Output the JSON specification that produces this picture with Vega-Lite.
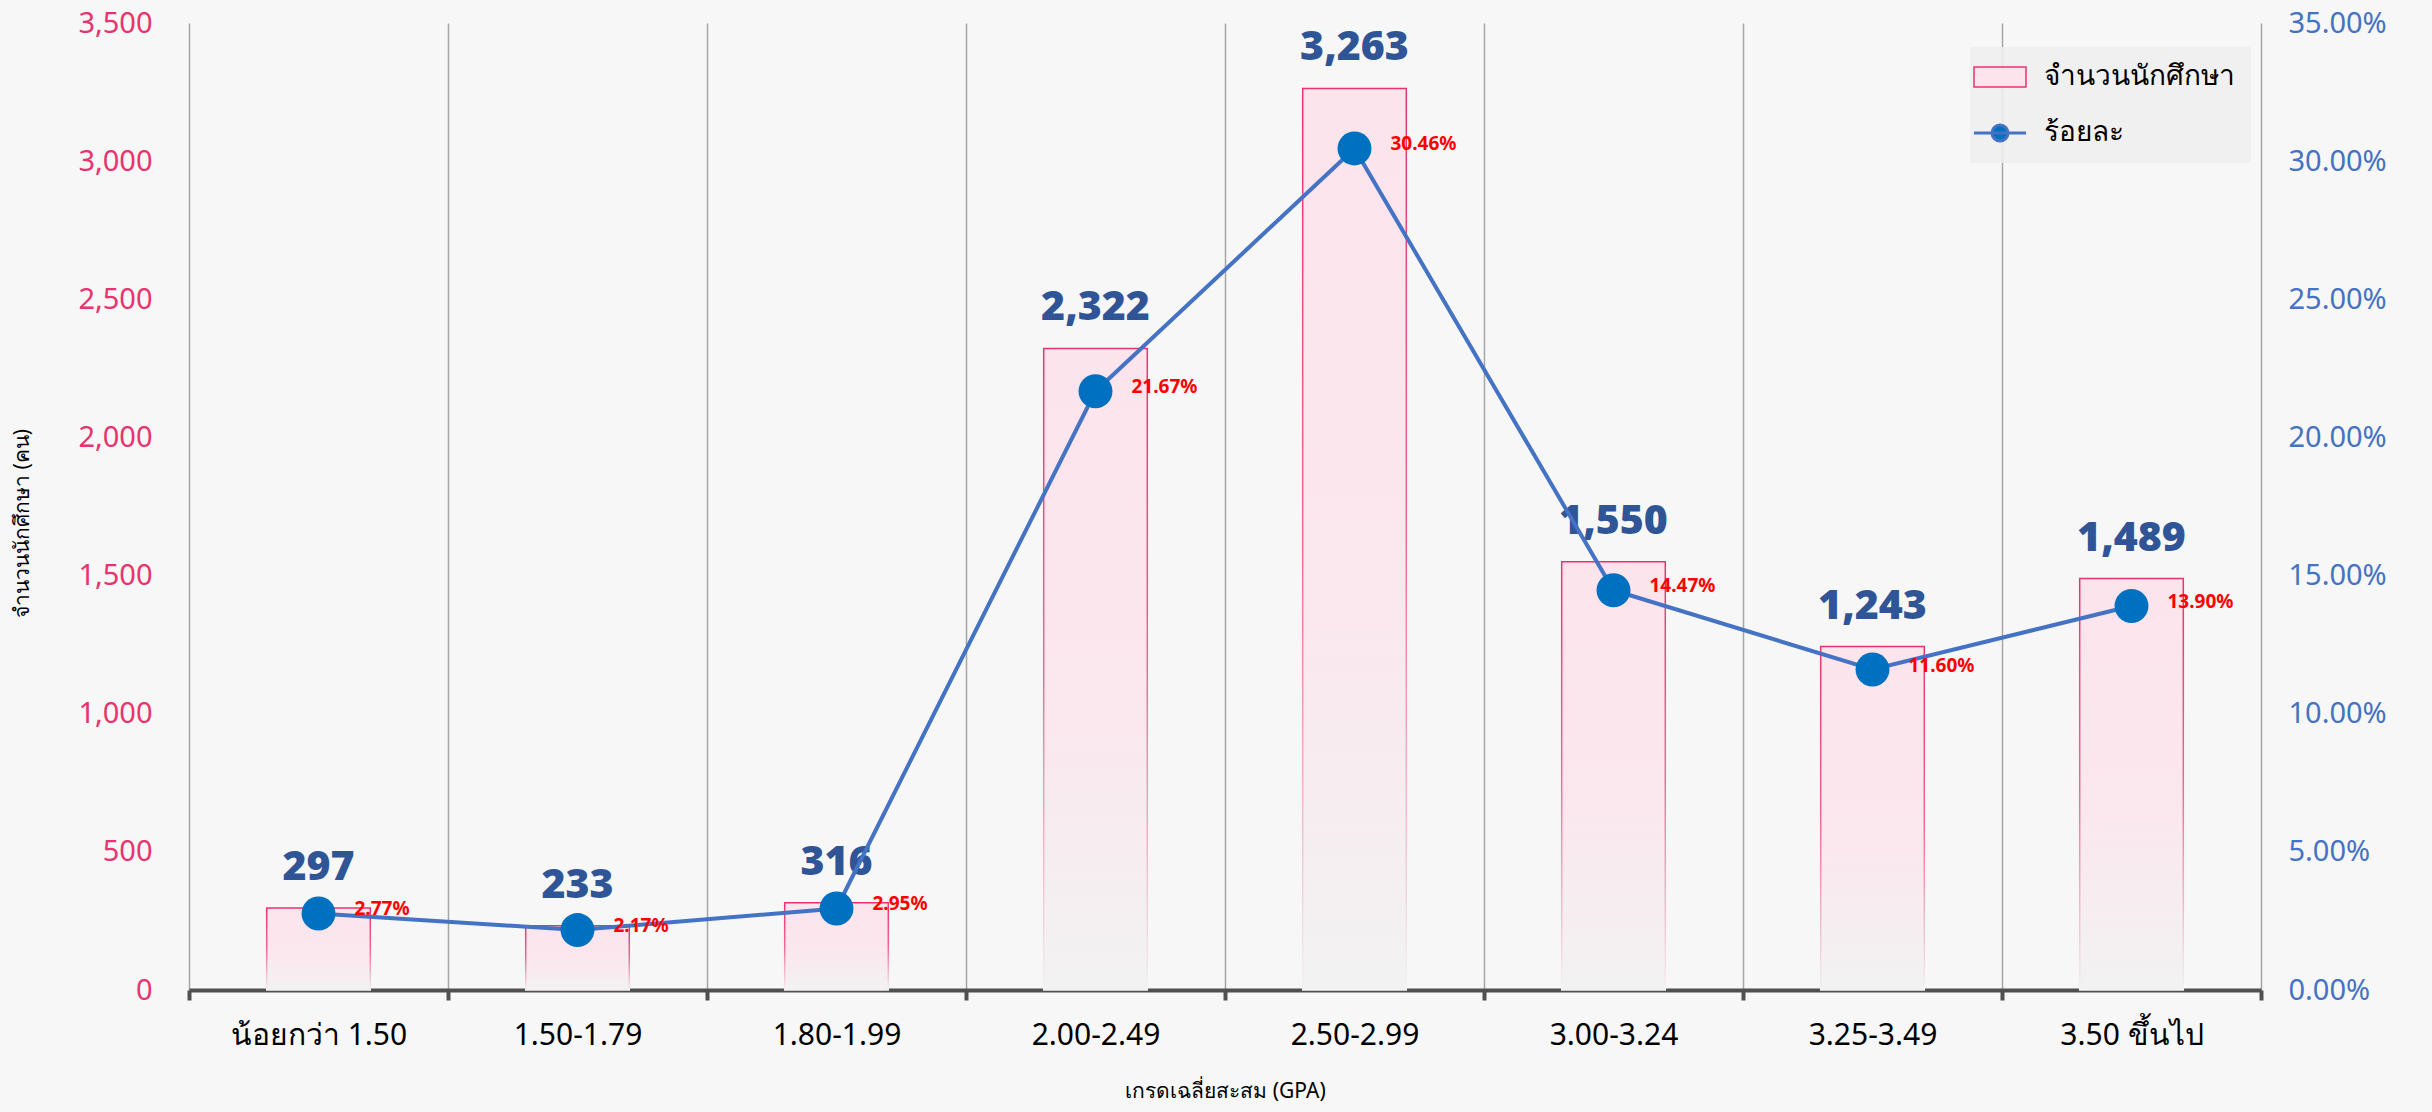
{
  "$schema": "https://vega.github.io/schema/vega-lite/v6.json",
  "autosize": {"type": "none"},
  "width": 2072,
  "height": 967,
  "padding": {"left": 189, "top": 23, "right": 171, "bottom": 122},
  "background": "#f7f7f7",
  "config": {"font": "Noto Sans", "view": {"stroke": null}},
  "data": {
    "values": [
      {"cat": "น้อยกว่า 1.50", "count": 297, "pct": 0.0277},
      {"cat": "1.50-1.79", "count": 233, "pct": 0.0217},
      {"cat": "1.80-1.99", "count": 316, "pct": 0.0295},
      {"cat": "2.00-2.49", "count": 2322, "pct": 0.2167},
      {"cat": "2.50-2.99", "count": 3263, "pct": 0.3046},
      {"cat": "3.00-3.24", "count": 1550, "pct": 0.1447},
      {"cat": "3.25-3.49", "count": 1243, "pct": 0.116},
      {"cat": "3.50 ขึ้นไป", "count": 1489, "pct": 0.139}
    ]
  },
  "encoding": {
    "x": {
      "field": "cat", "type": "nominal", "sort": null,
      "scale": {"paddingInner": 0, "paddingOuter": 0},
      "axis": {
        "orient": "bottom", "labelAngle": 0, "labelFontSize": 30, "labelColor": "#000000",
        "tickBand": "extent", "ticks": true, "tickSize": 10, "tickWidth": 4, "tickColor": "#505050",
        "domainColor": "#505050", "domainWidth": 4,
        "grid": true, "gridColor": "#a6a6a6", "gridWidth": 1.5,
        "labelPadding": 20,
        "title": "เกรดเฉลี่ยสะสม (GPA)", "titleFontSize": 21, "titleFontWeight": "normal", "titleColor": "#000000",
        "titleY": 90, "titleBaseline": "top"
      }
    }
  },
  "layer": [
    {
      "encoding": {
        "y": {
          "field": "count", "type": "quantitative",
          "scale": {"domain": [0, 3500]},
          "axis": {
            "orient": "left", "values": [0, 500, 1000, 1500, 2000, 2500, 3000, 3500], "format": ",.0f",
            "domain": false, "ticks": false, "grid": false,
            "labelColor": "#e8336e", "labelFontSize": 29, "labelPadding": 37,
            "title": "จำนวนนักศึกษา (คน)", "titleFontSize": 21, "titleFontWeight": "normal", "titleColor": "#000000",
            "titleX": -167, "titleY": 500, "titleAngle": -90, "titleBaseline": "middle", "titleAlign": "center"
          }
        }
      },
      "layer": [
        {
          "mark": {
            "type": "bar", "width": {"band": 0.4},
            "fill": {"gradient": "linear", "x1": 0, "y1": 0, "x2": 0, "y2": 1,
              "stops": [{"offset": 0, "color": "#fce4ec"}, {"offset": 0.55, "color": "#fbe7ee"}, {"offset": 1, "color": "#f2f2f2"}]},
            "stroke": {"gradient": "linear", "x1": 0, "y1": 0, "x2": 0, "y2": 1,
              "stops": [{"offset": 0, "color": "#e8336e"}, {"offset": 0.5, "color": "#ec6a92"}, {"offset": 1, "color": "#f2f2f2"}]},
            "strokeWidth": 1.5
          }
        },
        {
          "mark": {"type": "text", "baseline": "alphabetic", "dy": -28, "fontSize": 41, "fontWeight": 900, "fill": "#2f5597"},
          "encoding": {"text": {"field": "count", "type": "quantitative", "format": ","}}
        }
      ]
    },
    {
      "encoding": {
        "y": {
          "field": "pct", "type": "quantitative",
          "scale": {"domain": [0, 0.35]},
          "axis": {
            "orient": "right", "values": [0, 0.05, 0.1, 0.15, 0.2, 0.25, 0.3, 0.35], "format": ".2%",
            "domain": false, "ticks": false, "grid": false,
            "labelColor": "#4472c4", "labelFontSize": 29, "labelPadding": 27, "title": null
          }
        }
      },
      "layer": [
        {
          "mark": {"type": "line", "strokeWidth": 4},
          "encoding": {
            "stroke": {
              "datum": "ร้อยละ", "type": "nominal",
              "scale": {"domain": ["จำนวนนักศึกษา", "ร้อยละ"], "range": ["#e8336e", "#4472c4"]},
              "legend": {
                "title": null, "orient": "none", "legendX": 1781, "legendY": 24,
                "fillColor": "rgba(238,238,238,0.85)", "padding": 16,
                "labelFontSize": 28, "labelColor": "#000000", "labelOffset": 30, "labelLimit": 400,
                "symbolSize": 400, "rowPadding": 28,
                "encode": {
                  "symbols": {
                    "update": {
                      "shape": {"signal": "datum.value === 'ร้อยละ' ? 'M -2.6 0 H 2.6 M 0.8 0 A 0.8 0.8 0 1 1 -0.8 0 A 0.8 0.8 0 1 1 0.8 0 Z' : 'M -2.6 -1 H 2.6 V 1 H -2.6 Z'"},
                      "fill": {"signal": "datum.value === 'ร้อยละ' ? '#0070c0' : '#fce4ec'"},
                      "fillOpacity": {"value": 1},
                      "strokeWidth": {"signal": "datum.value === 'ร้อยละ' ? 3 : 1.5"}
                    }
                  }
                }
              }
            }
          }
        },
        {
          "mark": {"type": "point", "filled": true, "fill": "#0070c0", "size": 1150, "opacity": 1}
        },
        {
          "mark": {"type": "text", "align": "left", "baseline": "middle", "dx": 36, "dy": -4, "fontSize": 19, "fontWeight": "bold", "fill": "#ff0000"},
          "encoding": {"text": {"field": "pct", "type": "quantitative", "format": ".2%"}}
        }
      ]
    }
  ],
  "resolve": {"scale": {"y": "independent"}}
}
